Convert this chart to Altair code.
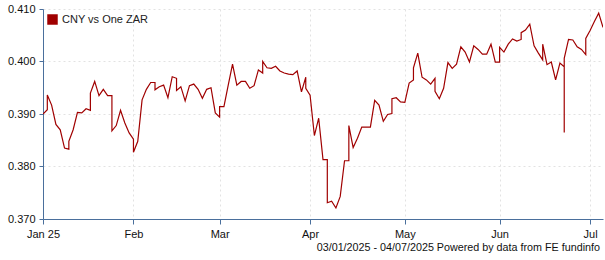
import altair as alt
import pandas as pd

# Weekday index (0 = 03/01/2025) and rate; repeated indices mark vertical steps
day_index = [
    0, 1, 1, 2, 3, 4, 5, 6, 6, 7, 8, 9, 10, 11, 11, 12, 13, 14, 15, 16, 16,
    17, 18, 19, 20, 21, 21, 22, 23, 24, 25, 26, 26, 27, 28, 29, 30, 31, 31,
    32, 33, 34, 35, 36, 37, 38, 39, 40, 41, 41, 42, 43, 44, 45, 46, 47, 48,
    49, 50, 51, 51, 52, 53, 54, 55, 56, 57, 58, 59, 60, 61, 61, 62, 63, 64,
    65, 66, 66, 67, 68, 69, 70, 71, 71, 72, 73, 74, 75, 76, 77, 78, 79, 80,
    81, 81, 82, 83, 84, 85, 86, 86, 87, 88, 89, 90, 91, 91, 92, 93, 94, 95,
    96, 97, 98, 99, 100, 101, 102, 103, 104, 105, 106, 106, 107, 108, 109,
    110, 111, 111, 112, 113, 114, 115, 116, 116, 117, 118, 119, 120, 121,
    121, 121, 122, 123, 124, 125, 126, 126, 127, 128, 129, 130,
]
rate = [
    0.3900, 0.3908, 0.3936, 0.3917, 0.3880, 0.3870, 0.3835, 0.3833, 0.3848,
    0.3870, 0.3903, 0.3902, 0.3910, 0.3907, 0.3940, 0.3962, 0.3935, 0.3947,
    0.3935, 0.3935, 0.3868, 0.3878, 0.3907, 0.3883, 0.3864, 0.3852, 0.3827,
    0.3848, 0.3927, 0.3947, 0.3960, 0.3960, 0.3946, 0.3952, 0.3955, 0.3931,
    0.3971, 0.3968, 0.3945, 0.3952, 0.3925, 0.3954, 0.3957, 0.3947, 0.3930,
    0.3947, 0.3950, 0.3902, 0.3894, 0.3914, 0.3914, 0.3955, 0.3995, 0.3955,
    0.3962, 0.3962, 0.3949, 0.3954, 0.3984, 0.3978, 0.4000, 0.3988, 0.3987,
    0.3991, 0.3982, 0.3978, 0.3976, 0.3975, 0.3982, 0.3942, 0.3970, 0.3949,
    0.3936, 0.3859, 0.3892, 0.3813, 0.3813, 0.3731, 0.3734, 0.3721, 0.3743,
    0.3811, 0.3811, 0.3878, 0.3836, 0.3854, 0.3875, 0.3875, 0.3875, 0.3926,
    0.3917, 0.3886, 0.3899, 0.3901, 0.3929, 0.3931, 0.3923, 0.3922, 0.3959,
    0.3965, 0.3988, 0.4016, 0.3970, 0.3965, 0.3957, 0.3968, 0.3943, 0.3929,
    0.3949, 0.3998, 0.3987, 0.3995, 0.4028, 0.4018, 0.3999, 0.4030, 0.4023,
    0.4014, 0.4014, 0.4033, 0.3999, 0.3999, 0.4027, 0.4018, 0.4033, 0.4043,
    0.4039, 0.4042, 0.4055, 0.4060, 0.4071, 0.4030, 0.4016, 0.4003, 0.4033,
    0.3994, 0.3999, 0.3965, 0.3997, 0.3990, 0.3865, 0.4006, 0.4042, 0.4041,
    0.4028, 0.4023, 0.4013, 0.4044, 0.4059, 0.4076, 0.4092, 0.4065,
]

x_tick_values = [0, 21, 41, 62, 84, 106, 127]
x_tick_labels = ["Jan 25", "Feb", "Mar", "Apr", "May", "Jun", "Jul"]
y_ticks = [0.370, 0.380, 0.390, 0.400, 0.410]
series_name = "CNY vs One ZAR"
footer = "03/01/2025 - 04/07/2025 Powered by data from FE fundinfo"

df = pd.DataFrame({
    "day": day_index,
    "rate": rate,
    "seq": list(range(len(rate))),
    "series": [series_name] * len(rate),
})

label_expr = " : ".join(
    f"datum.value == {v} ? '{l}'" for v, l in zip(x_tick_values, x_tick_labels)
) + " : ''"

FONT = "Liberation Sans"
AXIS_COLOR = "#4a6f9c"
LINE_COLOR = "#a00000"

line = alt.Chart(df).mark_line(strokeWidth=1.2, clip=True).encode(
    x=alt.X(
        "day:Q",
        scale=alt.Scale(domain=[0, 130], nice=False, zero=False),
        axis=alt.Axis(
            values=x_tick_values, labelExpr=label_expr, title=None,
            grid=True, gridDash=[2, 3], gridColor="#e2e2e2",
            domainColor=AXIS_COLOR, tickColor=AXIS_COLOR, tickSize=5,
            labelFont=FONT, labelFontSize=11, labelColor="#111",
            labelPadding=4, labelFlush=False,
        ),
    ),
    y=alt.Y(
        "rate:Q",
        scale=alt.Scale(domain=[0.370, 0.410], nice=False, zero=False),
        axis=alt.Axis(
            values=y_ticks, format=".3f", title=None,
            grid=True, gridDash=[2, 3], gridColor="#e2e2e2",
            domainColor=AXIS_COLOR, tickColor=AXIS_COLOR, tickSize=4,
            labelFont=FONT, labelFontSize=11, labelColor="#111",
            labelPadding=4,
        ),
    ),
    color=alt.Color(
        "series:N",
        scale=alt.Scale(range=[LINE_COLOR]),
        legend=alt.Legend(
            title=None, orient="none", legendX=4, legendY=5, padding=0,
            symbolType="square", symbolSize=110, symbolFillColor=LINE_COLOR,
            symbolStrokeColor=LINE_COLOR, symbolStrokeWidth=0,
            labelFont=FONT, labelFontSize=11, labelColor="#222", labelOffset=4,
        ),
    ),
    order=alt.Order("seq:Q"),
).properties(
    width=560,
    height=210,
    title=alt.TitleParams(
        footer, orient="bottom", anchor="end", fontSize=10.75, fontWeight="normal",
        font=FONT, color="#111", offset=4, dx=-3,
    ),
)

chart = line.configure_view(stroke=None).properties(
    autosize=alt.AutoSizeParams(type="none"),
    padding={"left": 43, "top": 9, "right": 2, "bottom": 41},
)

chart.save("out.html", embed_options={"renderer": "svg", "actions": False})
